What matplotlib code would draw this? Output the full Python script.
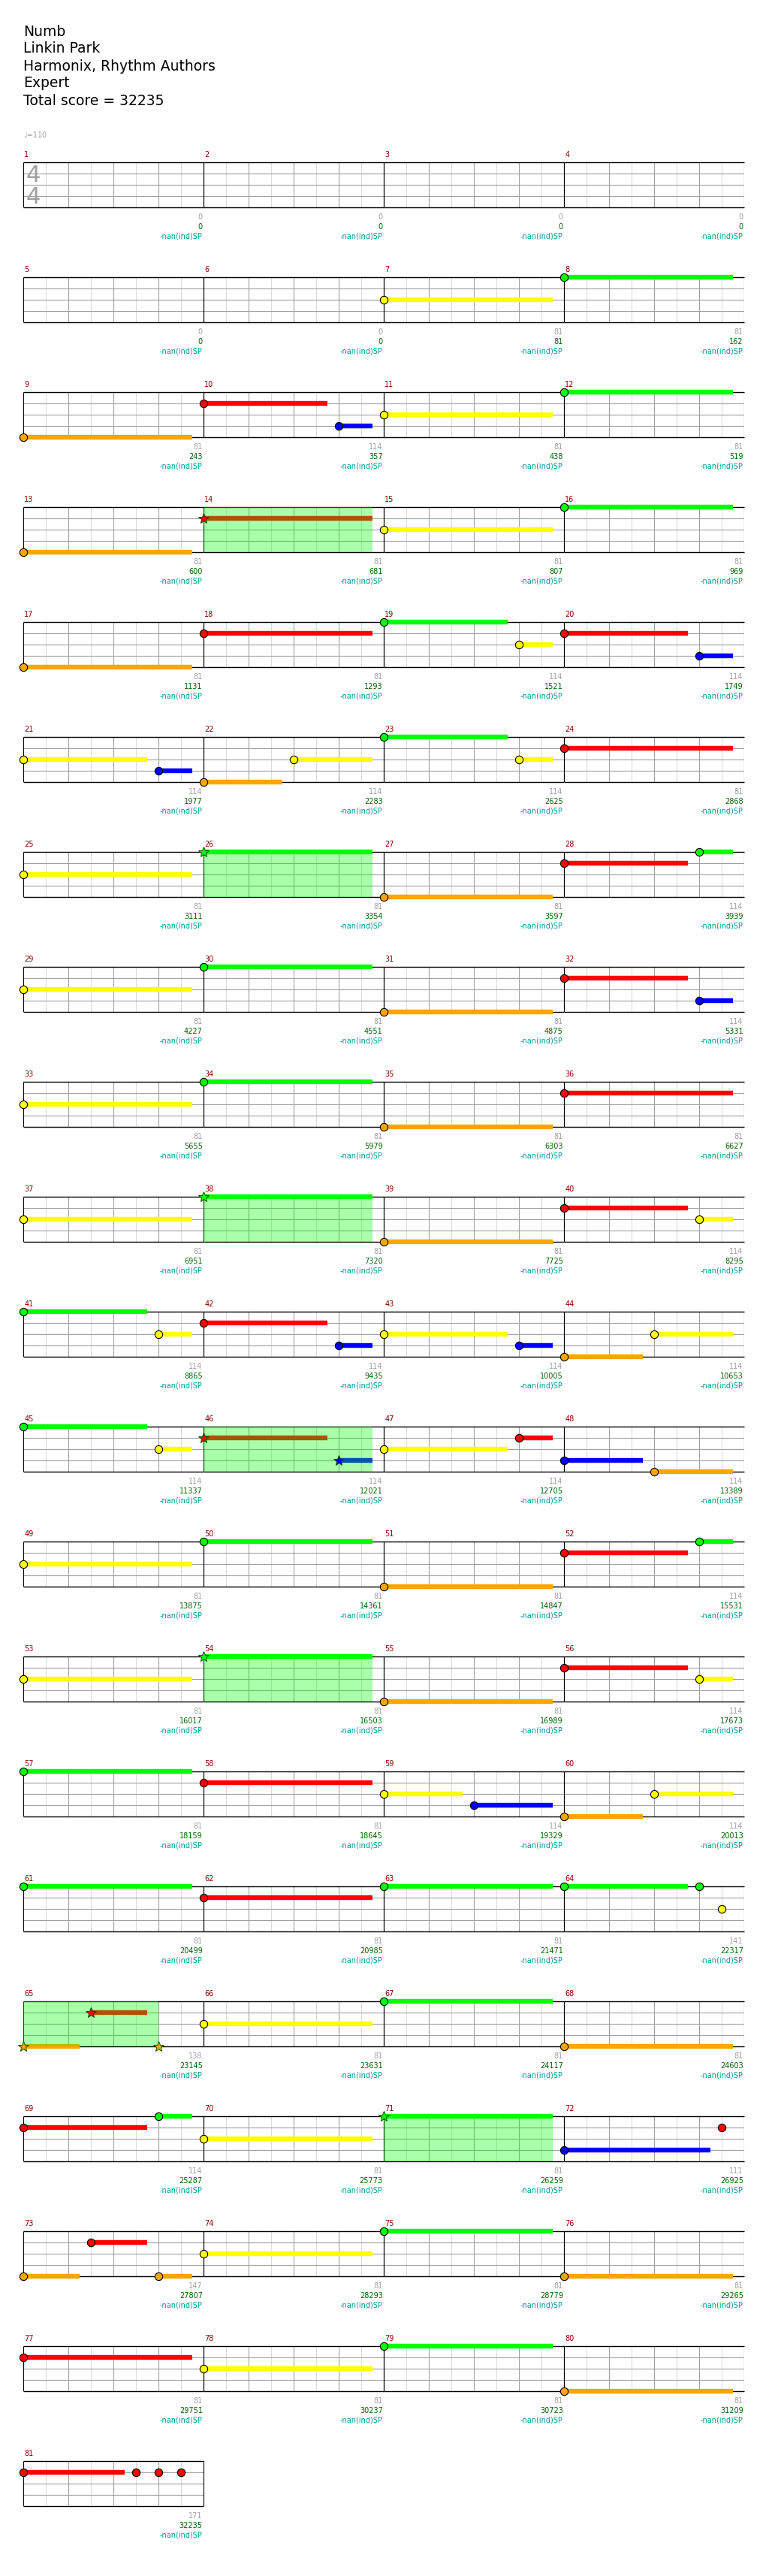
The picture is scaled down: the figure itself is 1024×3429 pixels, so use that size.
import matplotlib
matplotlib.use('Agg')
import matplotlib.pyplot as plt
import matplotlib.transforms as mtransforms

plt.rcParams['font.family'] = ['DejaVu Sans']

# song header
song_info = ['Numb', 'Linkin Park', 'Harmonix, Rhythm Authors', 'Expert', 'Total score = 32235']
tempo = 110
n_measures = 81
sp_label = '-nan(ind)SP'

# score of each measure and the running total
measure_score = [0, 0, 0, 0, 0, 0, 81, 81, 81, 114, 81, 81, 81, 81, 81, 81,
                 81, 81, 114, 114, 114, 114, 114, 81, 81, 81, 81, 114, 81, 81, 81, 114,
                 81, 81, 81, 81, 81, 81, 81, 114, 114, 114, 114, 114, 114, 114, 114, 114,
                 81, 81, 81, 114, 81, 81, 81, 114, 81, 81, 114, 114, 81, 81, 81, 141,
                 138, 81, 81, 81, 114, 81, 81, 111, 147, 81, 81, 81, 81, 81, 81, 81, 171]
running_total = [0, 0, 0, 0, 0, 0, 81, 162, 243, 357, 438, 519, 600, 681, 807, 969,
                 1131, 1293, 1521, 1749, 1977, 2283, 2625, 2868, 3111, 3354, 3597, 3939,
                 4227, 4551, 4875, 5331, 5655, 5979, 6303, 6627, 6951, 7320, 7725, 8295,
                 8865, 9435, 10005, 10653, 11337, 12021, 12705, 13389, 13875, 14361, 14847, 15531,
                 16017, 16503, 16989, 17673, 18159, 18645, 19329, 20013, 20499, 20985, 21471, 22317,
                 23145, 23631, 24117, 24603, 25287, 25773, 26259, 26925, 27807, 28293, 28779, 29265,
                 29751, 30237, 30723, 31209, 32235]

# notes: measure, position in eighths, lane (0 green .. 4 orange), sustain length in eighths
note_measure = [7, 8,
                9, 10, 10, 11, 12,
                13, 14, 15, 16,
                17, 18, 19, 19, 20, 20,
                21, 21, 22, 22, 23, 23, 24,
                25, 26, 27, 28, 28,
                29, 30, 31, 32, 32,
                33, 34, 35, 36,
                37, 38, 39, 40, 40,
                41, 41, 42, 42, 43, 43, 44, 44,
                45, 45, 46, 46, 47, 47, 48, 48,
                49, 50, 51, 52, 52,
                53, 54, 55, 56, 56,
                57, 58, 59, 59, 60, 60,
                61, 62, 63, 64, 64, 64,
                65, 65, 65, 66, 67, 68,
                69, 69, 70, 71, 72, 72,
                73, 73, 73, 74, 75, 76,
                77, 78, 79, 80,
                81, 81, 81, 81]
note_eighth = [0, 0,
               0, 0, 6, 0, 0,
               0, 0, 0, 0,
               0, 0, 0, 6, 0, 6,
               0, 6, 0, 4, 0, 6, 0,
               0, 0, 0, 0, 6,
               0, 0, 0, 0, 6,
               0, 0, 0, 0,
               0, 0, 0, 0, 6,
               0, 6, 0, 6, 0, 6, 0, 4,
               0, 6, 0, 6, 0, 6, 0, 4,
               0, 0, 0, 0, 6,
               0, 0, 0, 0, 6,
               0, 0, 0, 4, 0, 4,
               0, 0, 0, 0, 6, 7,
               0, 3, 6, 0, 0, 0,
               0, 6, 0, 0, 0, 7,
               0, 3, 6, 0, 0, 0,
               0, 0, 0, 0,
               0, 5, 6, 7]
note_lane = [2, 0,
             4, 1, 3, 2, 0,
             4, 1, 2, 0,
             4, 1, 0, 2, 1, 3,
             2, 3, 4, 2, 0, 2, 1,
             2, 0, 4, 1, 0,
             2, 0, 4, 1, 3,
             2, 0, 4, 1,
             2, 0, 4, 1, 2,
             0, 2, 1, 3, 2, 3, 4, 2,
             0, 2, 1, 3, 2, 1, 3, 4,
             2, 0, 4, 1, 0,
             2, 0, 4, 1, 2,
             0, 1, 2, 3, 4, 2,
             0, 1, 0, 0, 0, 2,
             4, 1, 4, 2, 0, 4,
             1, 0, 2, 0, 3, 1,
             4, 1, 4, 2, 0, 4,
             1, 2, 0, 4,
             1, 1, 1, 1]
note_sustain = [7.5, 7.5,
                7.5, 5.5, 1.5, 7.5, 7.5,
                7.5, 7.5, 7.5, 7.5,
                7.5, 7.5, 5.5, 1.5, 5.5, 1.5,
                5.5, 1.5, 3.5, 3.5, 5.5, 1.5, 7.5,
                7.5, 7.5, 7.5, 5.5, 1.5,
                7.5, 7.5, 7.5, 5.5, 1.5,
                7.5, 7.5, 7.5, 7.5,
                7.5, 7.5, 7.5, 5.5, 1.5,
                5.5, 1.5, 5.5, 1.5, 5.5, 1.5, 3.5, 3.5,
                5.5, 1.5, 5.5, 1.5, 5.5, 1.5, 3.5, 3.5,
                7.5, 7.5, 7.5, 5.5, 1.5,
                7.5, 7.5, 7.5, 5.5, 1.5,
                7.5, 7.5, 3.5, 3.5, 3.5, 3.5,
                7.5, 7.5, 7.5, 5.5, 0, 0,
                2.5, 2.5, 0, 7.5, 7.5, 7.5,
                5.5, 1.5, 7.5, 7.5, 6.5, 0,
                2.5, 2.5, 1.5, 7.5, 7.5, 7.5,
                7.5, 7.5, 7.5, 7.5,
                4.5, 0, 0, 0]

# star power phrases
sp_measure = [14, 26, 38, 46, 54, 65, 71]
sp_start = [0, 0, 0, 0, 0, 0, 0]
sp_end = [7.5, 7.5, 7.5, 7.5, 7.5, 6, 7.5]

lane_colors = ['#00ff00', '#ff0000', '#ffff00', '#0000ff', '#ffa500']

W, H = 1024, 3430
fig = plt.figure(figsize=(W / 100, H / 100), dpi=100)

for i, line in enumerate(song_info):
    fig.text(31 / W, 1 - (42 + 23 * i) / H, line, fontsize=13.5, va='center', ha='left')
fig.text(31 / W, 1 - 180 / H, '\u2669=%d' % tempo, fontsize=7, color='#a0a0a0', va='center')

per_row = 4
n_rows = (n_measures + per_row - 1) // per_row
for r in range(n_rows):
    top = 217 + 153 * r
    ax = fig.add_axes([31 / W, 1 - (top + 60) / H, 960 / W, 60 / H])
    ax.set_xlim(0, 32)
    ax.set_ylim(4, 0)
    ax.axis('off')
    tr = mtransforms.blended_transform_factory(ax.transData, ax.transAxes)
    measures = range(r * per_row + 1, min((r + 1) * per_row, n_measures) + 1)
    for k, m in enumerate(measures):
        x0 = k * 8
        light = [x0 + e for e in (1, 3, 5, 7)]
        mid = [x0 + e for e in (2, 4, 6)]
        ax.vlines(light, 0, 4, color='#dcdcdc', lw=0.8, zorder=1)
        ax.vlines(mid, 0, 4, color='#a0a0a0', lw=0.8, zorder=1)
        ax.hlines([1, 2, 3], x0, x0 + 8, color='#a0a0a0', lw=0.8, zorder=1)
        ax.hlines([0, 4], x0, x0 + 8, color='k', lw=1.0, zorder=1.5, clip_on=False)
        ax.vlines([x0, x0 + 8], 0, 4, color='k', lw=0.8, zorder=1.5)
        ax.text(x0 + 0.04, 1.185, str(m), transform=tr, color='#8b0000', fontsize=7,
                ha='left', va='center')
        ax.text(x0 + 8 - 0.04, -0.2, str(measure_score[m - 1]), transform=tr,
                color='#a0a0a0', fontsize=7, ha='right', va='center')
        ax.text(x0 + 8 - 0.04, -0.417, str(running_total[m - 1]), transform=tr,
                color='#006400', fontsize=7, ha='right', va='center')
        ax.text(x0 + 8 - 0.04, -0.633, sp_label, transform=tr,
                color='#009b9b', fontsize=7, ha='right', va='center')
        for s, a, b in zip(sp_measure, sp_start, sp_end):
            if s == m:
                ax.axvspan(x0 + a, x0 + b, ymin=0, ymax=1, color='#00ff00', alpha=1 / 3,
                           lw=0, zorder=3)
        for nm, ne, nl, ns in zip(note_measure, note_eighth, note_lane, note_sustain):
            if nm != m:
                continue
            x = x0 + ne
            c = lane_colors[nl]
            if ns > 0:
                ax.plot([x, x + ns], [nl, nl], color=c, lw=4.6, solid_capstyle='butt',
                        zorder=2, clip_on=False)
            star = any(s == m and a <= ne <= b for s, a, b in zip(sp_measure, sp_start, sp_end))
            if star:
                ax.plot(x, nl, marker='*', ms=10, mfc=c, mec='#005000', mew=0.7,
                        zorder=4, clip_on=False)
            else:
                ax.plot(x, nl, marker='o', ms=7.4, mfc=c, mec='k', mew=0.8,
                        zorder=4, clip_on=False)
    if r == 0:
        ax.text(0.45, 1.1, '4', color='#a0a0a0', fontsize=22, ha='center', va='center', zorder=1.6)
        ax.text(0.45, 3.05, '4', color='#a0a0a0', fontsize=22, ha='center', va='center', zorder=1.6)

fig.savefig('out.png', dpi=100)
